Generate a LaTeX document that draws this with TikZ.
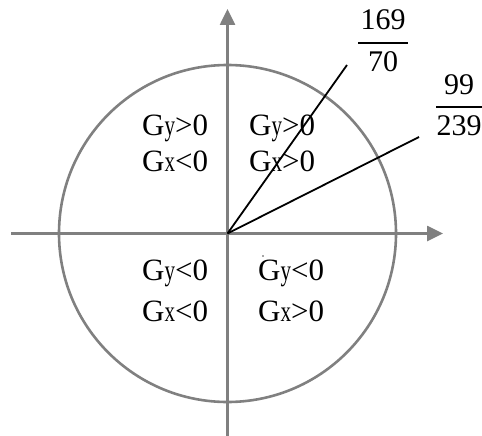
\documentclass[tikz,border=0pt]{standalone}
\usepackage{graphicx}
\usepackage{fontspec}
\setmainfont{Liberation Serif}
\usetikzlibrary{arrows.meta}
\newcommand{\smallsub}[1]{\scalebox{0.68}[0.95]{#1}}
\begin{document}
\begin{tikzpicture}[x=1pt,y=-1pt,
  axis/.style={draw=gray!95!black!95, line width=2.6pt, -{Triangle[length=16pt,width=15pt]}},
  circ/.style={draw=gray, line width=2.6pt},
  ray/.style={draw=black, line width=1.8pt},
  qtext/.style={anchor=base west, inner sep=0pt, font=\fontsize{31}{31}\selectfont},
  frac/.style={anchor=base, inner sep=0pt, font=\fontsize{30}{30}\selectfont},
  fbar/.style={draw=black, line width=2pt}]
\useasboundingbox (0,0) rectangle (482,436);
\coordinate (O) at (227.5,233.5);
\coordinate (xl) at (11,233.5);
\coordinate (xr) at (443,233.5);
\coordinate (yb) at (227.5,436);
\coordinate (yt) at (227.5,9);
\coordinate (r1) at (347,65);
\coordinate (r2) at (419,137);
% circle
\draw[circ] (O) circle[radius=168.5pt];
% axes
\draw[axis] (xl) -- (xr);
\draw[axis] (yb) -- (yt);
% rays
\draw[ray] (O) -- (r1);
\draw[ray] (O) -- (r2);
% quadrant labels
\node[qtext] (q1a) at (142,135) {G\smallsub{y}>0};
\node[qtext] (q1b) at (142,171) {G\smallsub{x}<0};
\node[qtext] (q2a) at (249,135) {G\smallsub{y}>0};
\node[qtext] (q2b) at (249,171) {G\smallsub{x}>0};
\node[qtext] (q3a) at (142,280) {G\smallsub{y}<0};
\node[qtext] (q3b) at (142,321) {G\smallsub{x}<0};
\node[qtext] (q4a) at (258,280) {G\smallsub{y}<0};
\node[qtext] (q4b) at (258,321) {G\smallsub{x}>0};
\fill[black!70] (263,256) circle[radius=0.8pt];
% fractions
\node[frac] (n1) at (383,30) {169};
\node[frac] (d1) at (383,72) {70};
\coordinate (b1l) at (358,43);
\coordinate (b1r) at (408,43);
\draw[fbar] (b1l) -- (b1r);
\node[frac] (n2) at (459,95) {99};
\node[frac] (d2) at (459,135) {239};
\coordinate (b2l) at (436,107);
\coordinate (b2r) at (482,107);
\draw[fbar] (b2l) -- (b2r);
\end{tikzpicture}
\end{document}
